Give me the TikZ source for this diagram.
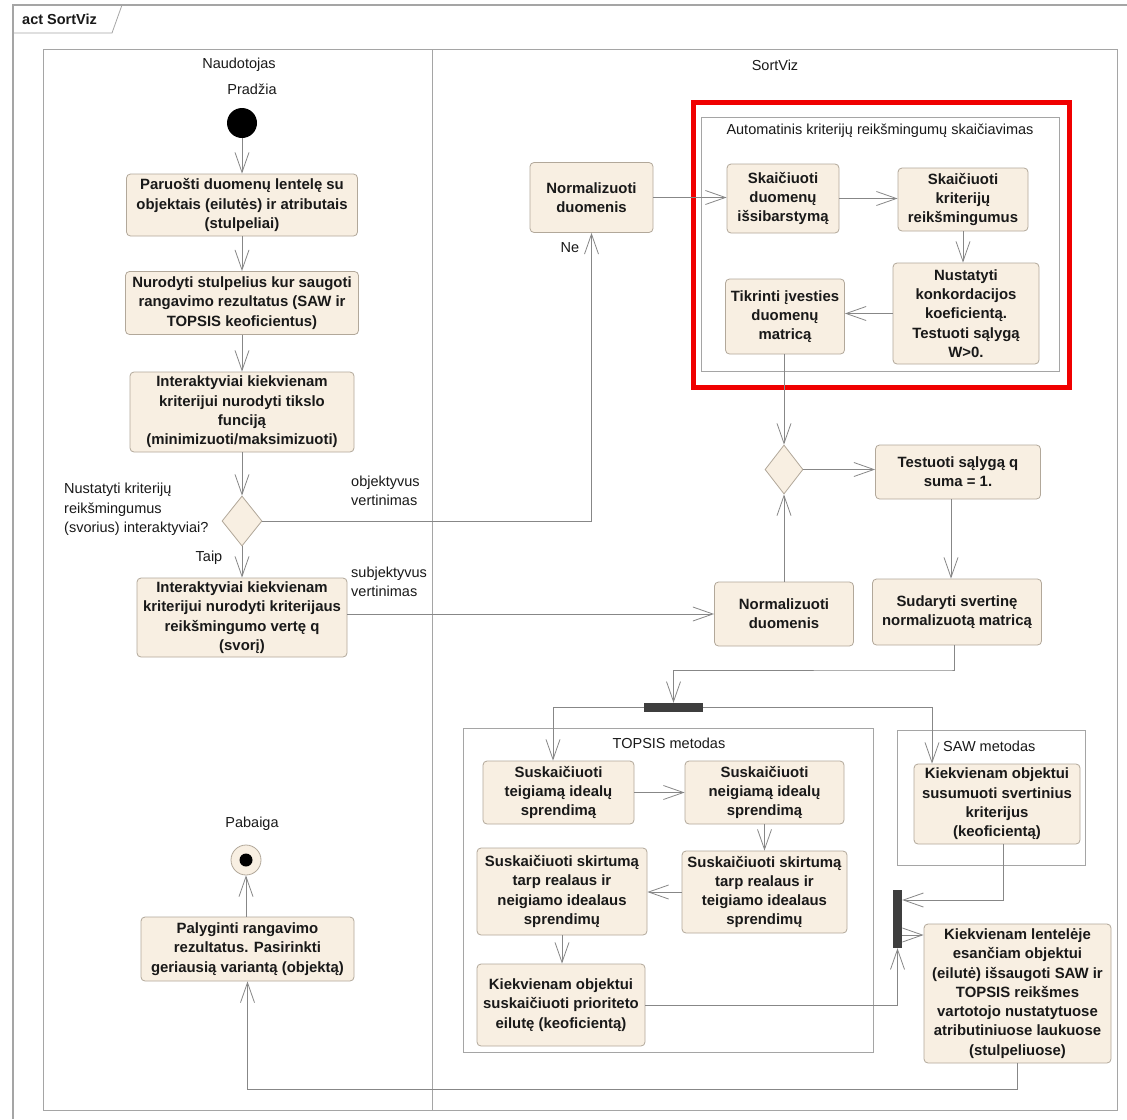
\documentclass[tikz,border=0pt]{standalone}
\usepackage{fontspec}
\setmainfont{Liberation Sans}
\usetikzlibrary{arrows.meta,shapes.geometric}
\definecolor{boxfill}{RGB}{248,239,226}
\definecolor{boxline}{RGB}{178,168,154}
\definecolor{conn}{RGB}{135,135,135}
\definecolor{framec}{RGB}{165,165,165}
\definecolor{barc}{RGB}{62,62,62}
\definecolor{redc}{RGB}{240,0,0}
\definecolor{txt}{RGB}{25,25,25}
\begin{document}
\begin{tikzpicture}[x=1pt,y=-1pt,
  act/.style={draw=boxline, fill=boxfill, rounded corners=4pt, line width=0.8pt, align=center, inner sep=1pt, text=txt, font=\fontsize{14.9}{19.3}\selectfont\bfseries},
  lbl/.style={font=\fontsize{14.5}{19.3}\selectfont, text=txt, inner sep=0pt},
  flow/.style={draw=conn, line width=0.8pt, -{Straight Barb[length=20pt,width=14pt]}},
  region/.style={draw=framec, line width=0.8pt},
  bar/.style={fill=barc, draw=none, inner sep=0pt},
  dec/.style={diamond, draw=boxline, fill=boxfill, line width=0.8pt, inner sep=0pt},
]
\useasboundingbox (0,0) rectangle (1127,1119);
\fill[white] (0,0) rectangle (1127,1119);
% outer frame
\draw[framec, line width=2.5pt] (13,1119) -- (13,5) -- (1127,5);
\draw[framec, line width=0.8pt] (13,33) -- (112,33) -- (122,5);
\node[lbl, anchor=west, font=\fontsize{14.5}{19.3}\selectfont\bfseries] (title) at (22,19) {act SortViz};
% partition
\draw[region] (43,49) rectangle (1117,1110);
\draw[region] (432.5,49) -- (432.5,1110);
\node[lbl] (hn) at (239,65) {Naudotojas};
\node[lbl] (hs) at (775,65) {SortViz};
% left lane
\node[lbl] (lstart) at (252,89) {Pradžia};
\node[circle, fill=black, minimum size=30pt, inner sep=0pt] (start) at (242,123) {};
\node[act, minimum width=231pt, minimum height=62pt] (b1) at (242,205) {Paruošti duomenų lentelę su\\objektais (eilutės) ir atributais\\(stulpeliai)};
\node[act, minimum width=233pt, minimum height=63pt] (b2) at (242,303) {Nurodyti stulpelius kur saugoti\\rangavimo rezultatus (SAW ir\\TOPSIS keoficientus)};
\node[act, minimum width=224pt, minimum height=80pt] (b3) at (242,412) {Interaktyviai kiekvienam\\kriterijui nurodyti tikslo\\funciją\\(minimizuoti/maksimizuoti)};
\node[dec, minimum width=40pt, minimum height=50pt] (d1) at (242,521) {};
\node[lbl, align=left, anchor=west] (q1) at (64,509.5) {Nustatyti kriterijų\\reikšmingumus\\(svorius) interaktyviai?};
\node[lbl] (taip) at (209,558) {Taip};
\node[lbl, align=left, anchor=west] (obj) at (351,490.5) {objektyvus\\vertinimas};
\node[lbl, align=left, anchor=west] (subj) at (351,581.5) {subjektyvus\\vertinimas};
\node[act, minimum width=210pt, minimum height=79pt] (b4) at (242,617.5) {Interaktyviai kiekvienam\\kriterijui nurodyti kriterijaus\\reikšmingumo vertę q\\(svorį)};
\node[lbl] (lend) at (252,824) {Pabaiga};
\node[circle, draw=boxline, fill=boxfill, line width=0.8pt, minimum size=30pt, inner sep=0pt] (end) at (246,860) {};
\fill[black] (end.center) circle (6.5);
\node[act, minimum width=213pt, minimum height=64pt] (pal) at (247.5,949) {Palyginti rangavimo\\rezultatus. Pasirinkti\\geriausią variantą (objektą)};
% right lane
\node[act, minimum width=123pt, minimum height=70pt] (n1) at (591.5,197.5) {Normalizuoti\\duomenis};
\node[lbl] (ne) at (570,248) {Ne};
\draw[redc, line width=5pt] (693,102.5) rectangle (1069.5,387.5);
\draw[region] (701,117) rectangle (1059,371);
\node[lbl] (auto) at (880,131) {Automatinis kriterijų reikšmingumų skaičiavimas};
\node[act, minimum width=112pt, minimum height=69pt] (s1) at (783,198.5) {Skaičiuoti\\duomenų\\išsibarstymą};
\node[act, minimum width=130pt, minimum height=63pt] (s2) at (963,199.5) {Skaičiuoti\\kriterijų\\reikšmingumus};
\node[act, minimum width=146pt, minimum height=101pt] (s3) at (966,313.5) {Nustatyti\\konkordacijos\\koeficientą.\\Testuoti sąlygą\\W>0.};
\node[act, minimum width=119pt, minimum height=75pt] (s4) at (785,316.5) {Tikrinti įvesties\\duomenų\\matricą};
\node[dec, minimum width=38pt, minimum height=49pt] (d2) at (784,469.5) {};
\node[act, minimum width=165pt, minimum height=54pt] (t1) at (958,472) {Testuoti sąlygą q\\suma = 1.};
\node[act, minimum width=169pt, minimum height=66pt] (t2) at (957,612) {Sudaryti svertinę\\normalizuotą matricą};
\node[act, minimum width=139pt, minimum height=64pt] (n2) at (784,614) {Normalizuoti\\duomenis};
\node[bar, minimum width=59pt, minimum height=9pt] (f1) at (673.5,707.5) {};
% TOPSIS
\draw[region] (463,728) rectangle (873,1052);
\node[lbl] (topt) at (669,743) {TOPSIS metodas};
\node[act, minimum width=151pt, minimum height=63pt] (p1) at (558.5,792.5) {Suskaičiuoti\\teigiamą idealų\\sprendimą};
\node[act, minimum width=159pt, minimum height=63pt] (p2) at (764.5,792.5) {Suskaičiuoti\\neigiamą idealų\\sprendimą};
\node[act, minimum width=165pt, minimum height=82pt] (p3) at (764.5,892) {Suskaičiuoti skirtumą\\tarp realaus ir\\teigiamo idealaus\\sprendimų};
\node[act, minimum width=170pt, minimum height=87pt] (p4) at (562,891.5) {Suskaičiuoti skirtumą\\tarp realaus ir\\neigiamo idealaus\\sprendimų};
\node[act, minimum width=168pt, minimum height=82pt] (p5) at (561,1005) {Kiekvienam objektui\\suskaičiuoti prioriteto\\eilutę (keoficientą)};
% SAW
\draw[region] (897,730) rectangle (1085,865);
\node[lbl, anchor=west] (sawt) at (943,746) {SAW metodas};
\node[act, minimum width=166pt, minimum height=80pt] (sb) at (997,804) {Kiekvienam objektui\\susumuoti svertinius\\kriterijus\\(keoficientą)};
\node[bar, minimum width=9pt, minimum height=58pt] (f2) at (897.5,919) {};
\node[act, minimum width=187pt, minimum height=139pt] (lb) at (1017.5,993.5) {Kiekvienam lentelėje\\esančiam objektui\\(eilutė) išsaugoti SAW ir\\TOPSIS reikšmes\\vartotojo nustatytuose\\atributiniuose laukuose\\(stulpeliuose)};
% helper coordinates
\coordinate (k1) at (951,670);
\coordinate (k2) at (932,707.5);
\coordinate (k3) at (1003,900);
\coordinate (k4) at (910,935);
\coordinate (k5) at (553,707.5);
% connectors
\draw[flow] (start) -- (b1);
\draw[flow] (b1) -- (b2);
\draw[flow] (b2) -- (b3);
\draw[flow] (b3) -- (d1);
\draw[flow] (d1) -- (b4);
\draw[flow] (d1.east) -| (n1.south);
\draw[flow] (b4.east |- n2.west) -- (n2.west);
\draw[flow] (n1.east) -- (n1.east -| s1.west);
\draw[flow] (s1.east) -- (s1.east -| s2.west);
\draw[flow] (s2.south) -- (s2.south |- s3.north);
\draw[flow] (s3.west) -- (s3.west -| s4.east);
\draw[flow] (d2.north |- s4.south) -- (d2.north);
\draw[flow] (n2.north) -- (d2.south);
\draw[flow] (d2.east) -- (d2.east -| t1.west);
\draw[flow] (k1 |- t1.south) -- (k1 |- t2.north);
\draw[flow] ([xshift=-3pt]t2.south) |- (k1) -| (f1.north);
\draw[flow] (f1.west) -- (k5) -- (k5 |- p1.north);
\draw[flow] (f1.east) -- (k2) -- (k2 |- sb.north);
\draw[flow] (p1.east) -- (p1.east -| p2.west);
\draw[flow] (p2.south) -- (p2.south |- p3.north);
\draw[flow] (p3.west) -- (p3.west -| p4.east);
\draw[flow] (p4.south) -- (p4.south |- p5.north);
\draw[flow] (p5.east) -| (f2.south);
\draw[flow] (k3 |- sb.south) -- (k3) -- (k3 -| f2.east);
\draw[flow] (f2.east |- k4) -- (lb.west |- k4);
\draw[flow] (lb.south) -- ++(0,26) -| (pal.south);
\draw[flow] (end.south |- pal.north) -- (end.south);
\end{tikzpicture}
\end{document}
